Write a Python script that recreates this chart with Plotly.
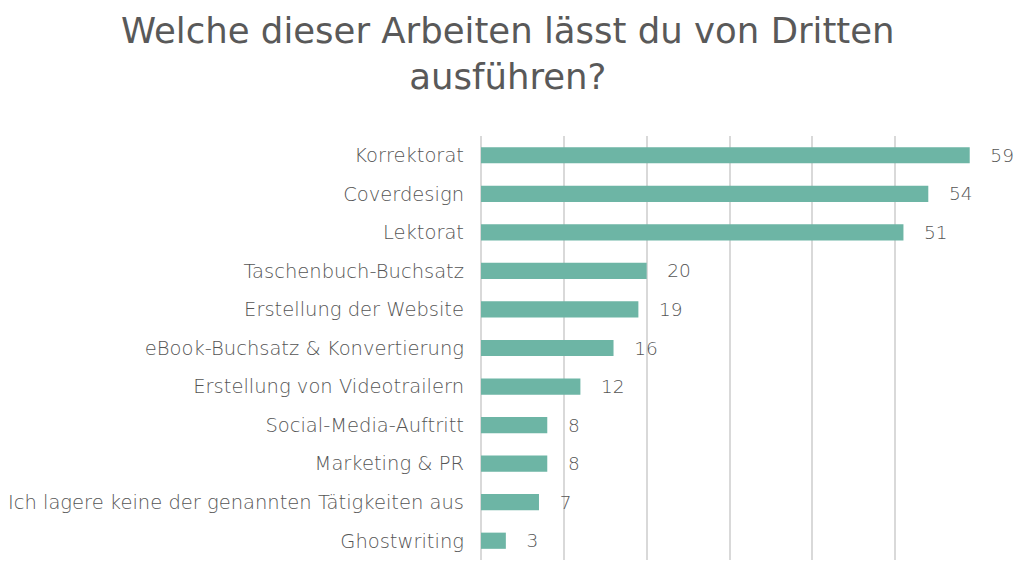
import plotly.graph_objects as go

categories = [
    "Korrektorat",
    "Coverdesign",
    "Lektorat",
    "Taschenbuch-Buchsatz",
    "Erstellung der Website",
    "eBook-Buchsatz & Konvertierung",
    "Erstellung von Videotrailern",
    "Social-Media-Auftritt",
    "Marketing & PR",
    "Ich lagere keine der genannten Tätigkeiten aus",
    "Ghostwriting",
]
values = [59, 54, 51, 20, 19, 16, 12, 8, 8, 7, 3]

title_text = "Welche dieser Arbeiten lässt du von Dritten<br>ausführen?"

grey = "#595959"
label_font = "'DejaVu Sans', sans-serif"
title_font = "'DejaVu Sans', sans-serif"

fig = go.Figure(
    go.Bar(
        x=values,
        y=categories,
        orientation="h",
        marker=dict(color="#6db5a5", line=dict(width=0)),
        width=0.42,
        texttemplate="\u00a0\u00a0\u00a0%{x}",
        textposition="outside",
        constraintext="none",
        textfont=dict(size=18.5, color="#555555", family=label_font, weight=300),
        cliponaxis=False,
    )
)

fig.update_layout(
    width=1024,
    height=579,
    paper_bgcolor="white",
    plot_bgcolor="white",
    margin=dict(l=481, r=46, t=136, b=19, autoexpand=False),
    showlegend=False,
    font=dict(family=label_font, color=grey),
    annotations=[
        dict(
            text=title_text,
            xref="paper",
            yref="paper",
            x=(508 - 481) / 497,
            y=1 + (136 - 8) / 424,
            xanchor="center",
            yanchor="top",
            align="center",
            showarrow=False,
            font=dict(size=35.5, color=grey, family=title_font),
        )
    ],
)

fig.update_xaxes(
    range=[0, 60],
    dtick=10,
    showgrid=True,
    gridcolor="#d9d9d9",
    gridwidth=2,
    zeroline=True,
    zerolinecolor="#d9d9d9",
    zerolinewidth=2,
    showticklabels=False,
    showline=False,
    automargin=False,
)
fig.update_yaxes(
    autorange="reversed",
    showgrid=False,
    showline=False,
    ticks="",
    ticklabelstandoff=16,
    automargin=False,
    tickfont=dict(size=19.5, color="#555555", family=label_font, weight=300),
)

fig.write_html("out.html")
